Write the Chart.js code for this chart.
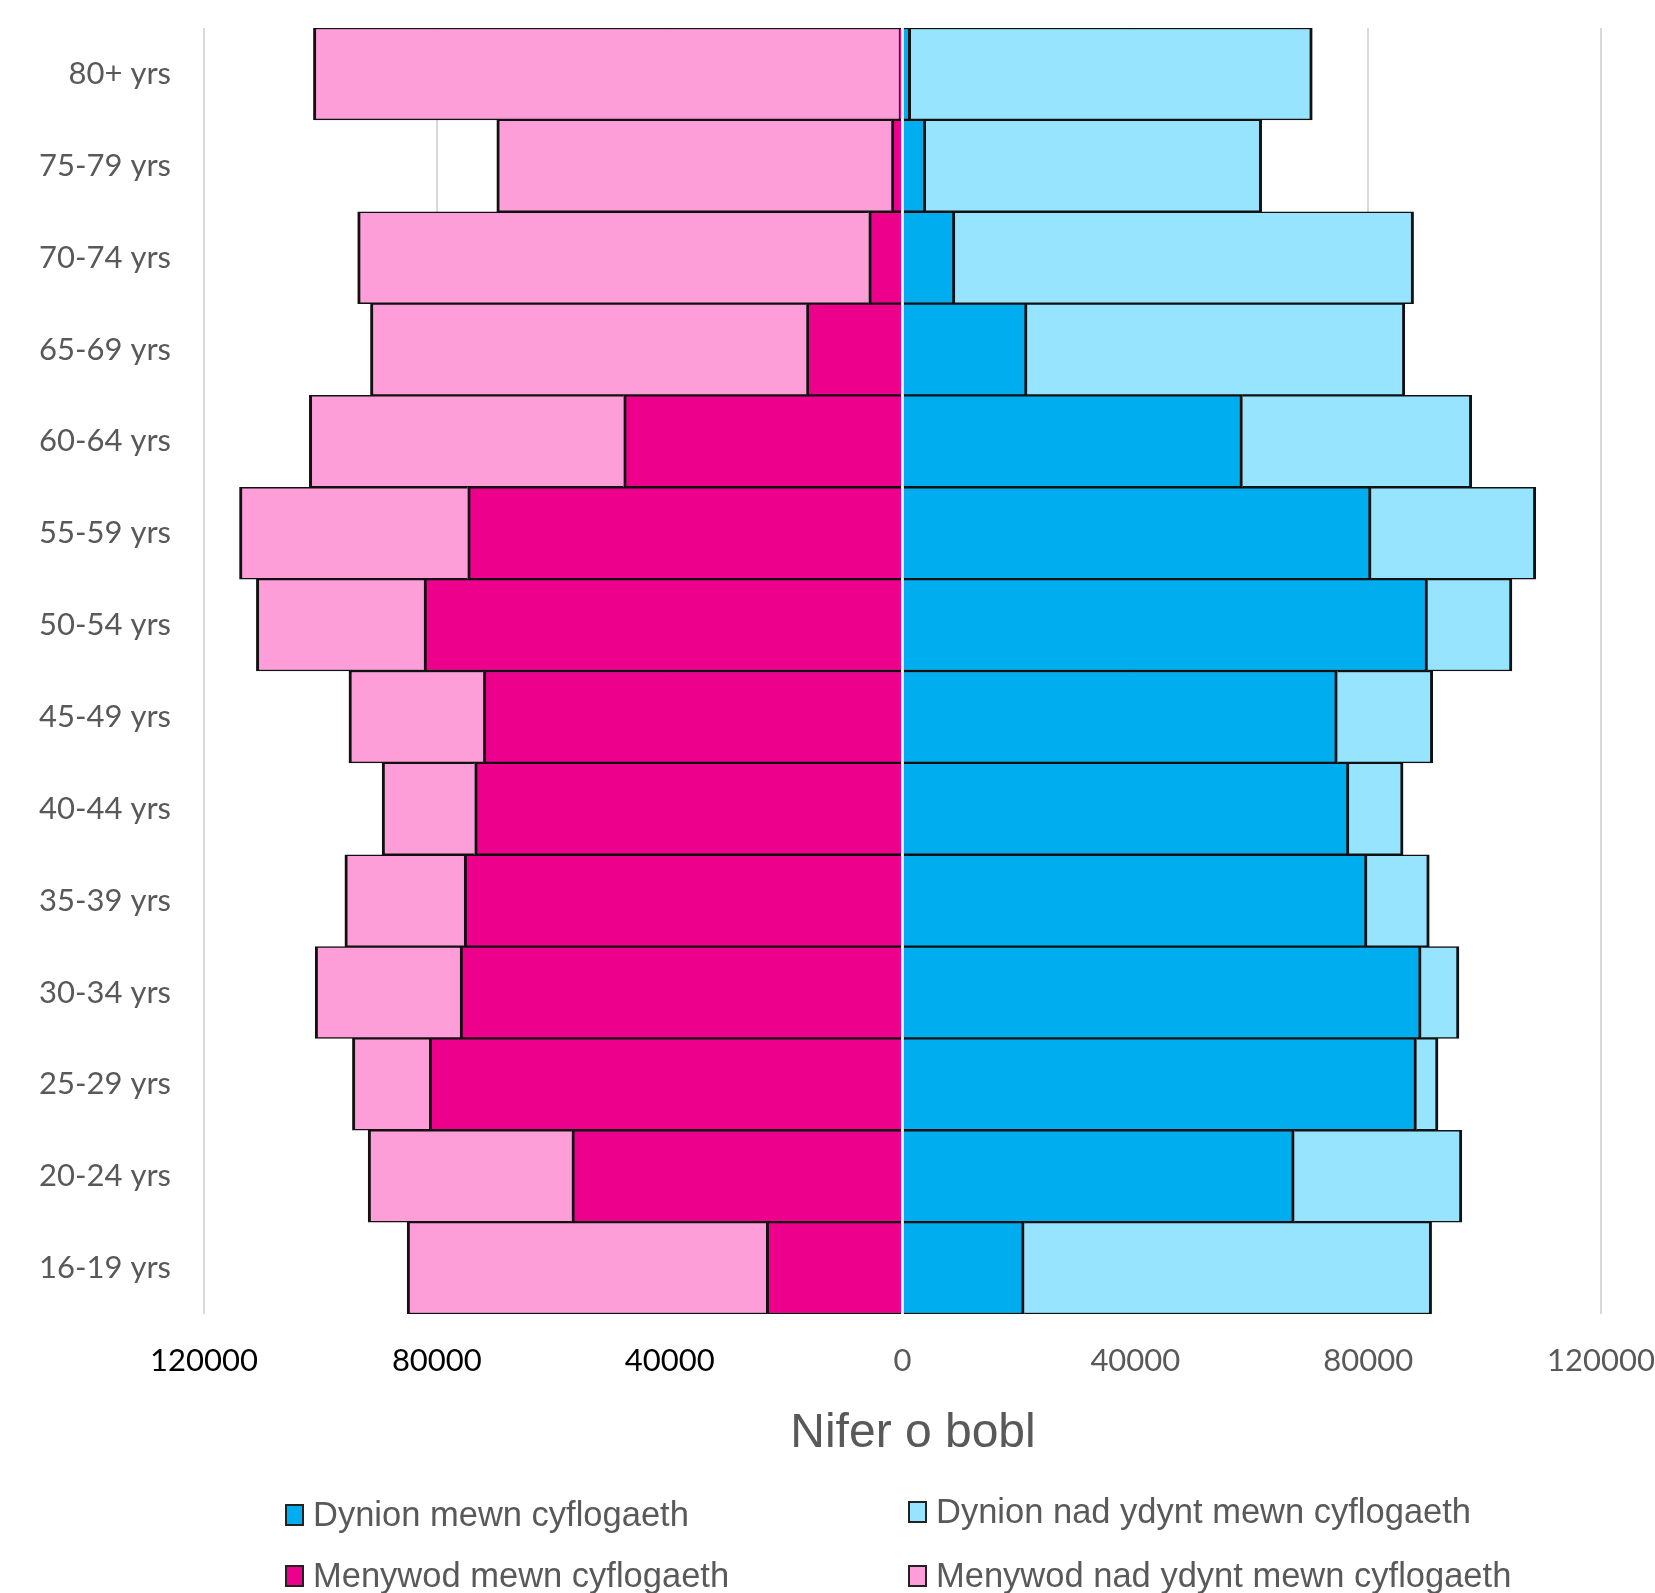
<!DOCTYPE html>
<html>
<head>
<meta charset="utf-8">
<script src="https://cdn.jsdelivr.net/npm/chart.js@4.4.1/dist/chart.umd.min.js"></script>
<style>
  body { margin: 0; background: #fff; }
  #wrap { position: relative; width: 1655px; height: 1593px; }
  .legend { position: absolute; font-family: "Liberation Sans", Arial, sans-serif; font-size: 34.5px; color: #595959; display: flex; align-items: center; white-space: nowrap; }
  .legend span.box { display: inline-block; width: 15px; height: 18px; border: 2px solid #222; margin-right: 9px; }
  #axisTitle { position: absolute; left: 713px; width: 400px; top: 1403px; text-align: center; font-family: "Liberation Sans", Arial, sans-serif; font-size: 48px; line-height: 56px; color: #595959; }
</style>
</head>
<body>
<div id="wrap">
  <canvas id="pyramid"></canvas>
  <div id="axisTitle">Nifer o bobl</div>
  <div class="legend" style="left:285px; top:1495px;"><span class="box" style="background:#00aeef"></span>Dynion mewn cyflogaeth</div>
  <div class="legend" style="left:908px; top:1492px;"><span class="box" style="background:#96e4ff"></span>Dynion nad ydynt mewn cyflogaeth</div>
  <div class="legend" style="left:285px; top:1556px;"><span class="box" style="background:#ec008c"></span>Menywod mewn cyflogaeth</div>
  <div class="legend" style="left:908px; top:1556px;"><span class="box" style="background:#fd9ed8"></span>Menywod nad ydynt mewn cyflogaeth</div>
</div>
<script>
const ageGroups = ['80+ yrs', '75-79 yrs', '70-74 yrs', '65-69 yrs', '60-64 yrs', '55-59 yrs', '50-54 yrs',
  '45-49 yrs', '40-44 yrs', '35-39 yrs', '30-34 yrs', '25-29 yrs', '20-24 yrs', '16-19 yrs'];

// men (drawn to the right)
const menEmployed = [1400, 4000, 9000, 21400, 58400, 80500, 90200, 74700, 76700, 79800, 89100, 88300, 67300, 20900];
const menNotEmployed = [69000, 57700, 78800, 64900, 39400, 28300, 14500, 16400, 9300, 10700, 6500, 3700, 28800, 70000];

// women (drawn to the left)
const womenEmployed = [600, 1900, 5800, 16500, 47900, 74700, 82200, 72000, 73500, 75300, 76000, 81300, 56800, 23400];
const womenNotEmployed = [100600, 67800, 87800, 74900, 54000, 39200, 28800, 23100, 15900, 20500, 24900, 13200, 35000, 61700];

const xTicks = [-120000, -80000, -40000, 0, 40000, 80000, 120000];

const barBorder = { top: 1.5, bottom: 1.5, left: 3, right: 3 };

function makeSet(label, values, color, sign) {
  return {
    label: label,
    data: values.map(v => v * sign),
    backgroundColor: color,
    borderColor: '#111',
    borderWidth: barBorder,
    borderSkipped: 'start',
    barPercentage: 1,
    categoryPercentage: 1,
    stack: 'pop'
  };
}

// white line along the zero axis, drawn over the bars
const zeroLine = {
  id: 'zeroLine',
  afterDatasetsDraw(chart) {
    const x = chart.scales.x.getPixelForValue(0);
    const ctx = chart.ctx;
    ctx.save();
    ctx.strokeStyle = '#fbeef5';
    ctx.lineWidth = 2.5;
    ctx.beginPath();
    ctx.moveTo(x, chart.chartArea.top);
    ctx.lineTo(x, chart.chartArea.bottom);
    ctx.stroke();
    ctx.restore();
  }
};

const ctx = document.getElementById('pyramid').getContext('2d');
new Chart(ctx, {
  type: 'bar',
  data: {
    labels: ageGroups,
    datasets: [
      makeSet('Dynion mewn cyflogaeth', menEmployed, '#00aeef', 1),
      makeSet('Dynion nad ydynt mewn cyflogaeth', menNotEmployed, '#96e4ff', 1),
      makeSet('Menywod mewn cyflogaeth', womenEmployed, '#ec008c', -1),
      makeSet('Menywod nad ydynt mewn cyflogaeth', womenNotEmployed, '#fd9ed8', -1)
    ]
  },
  plugins: [zeroLine],
  options: {
    indexAxis: 'y',
    responsive: true,
    maintainAspectRatio: false,
    animation: false,
    layout: { padding: { top: 28, right: 54, bottom: 134, left: 0 } },
    plugins: {
      legend: { display: false },
      tooltip: { enabled: false }
    },
    scales: {
      x: {
        stacked: true,
        min: -120000,
        max: 120000,
        afterBuildTicks: scale => { scale.ticks = xTicks.map(v => ({ value: v })); },
        afterFit: scale => {
          scale.height = 145;
          scale.paddingLeft = 0;
          scale.paddingRight = 0;
        },
        grid: { color: '#d9d9d9', lineWidth: 2, drawTicks: false },
        border: { display: false },
        ticks: {
          padding: 28,
          maxRotation: 0,
          color: c => c.tick && c.tick.value < 0 ? '#000' : '#595959',
          font: { family: 'Lato', size: 31 },
          callback: v => String(Math.abs(v))
        }
      },
      y: {
        stacked: true,
        afterFit: scale => {
          scale.width = 204;
          scale.paddingTop = 0;
          scale.paddingBottom = 0;
        },
        grid: { display: false, drawTicks: false },
        border: { display: false },
        ticks: {
          padding: 33,
          color: '#595959',
          font: { family: 'Lato', size: 31 }
        }
      }
    }
  }
});
</script>
</body>
</html>
